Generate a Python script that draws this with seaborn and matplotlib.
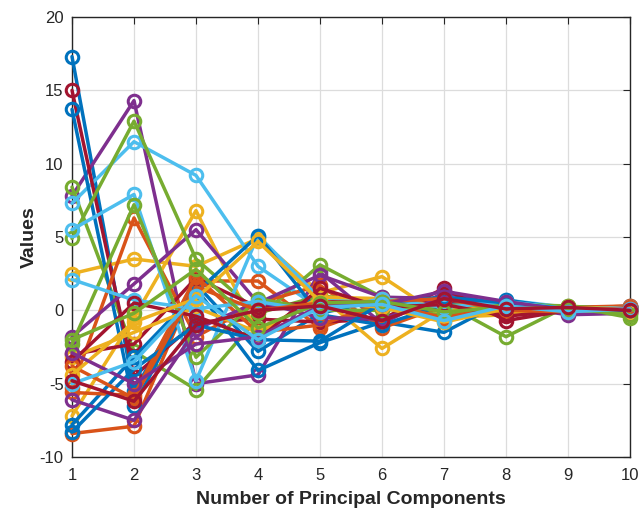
import matplotlib
matplotlib.use("Agg")
import matplotlib.pyplot as plt
import seaborn as sns
import pandas as pd
import numpy as np

components = [1, 2, 3, 4, 5, 6, 7, 8, 9, 10]

s01 = [17.3, -5.5, 1.8, -2.8, -0.2, 0.7, 0.5, 0.6, 0.2, 0.1]
s02 = [-8.4, -7.9, 2.0, 2.0, -1.2, 0.3, 0.0, -0.2, 0.1, 0.3]
s03 = [2.5, 3.5, 3.0, 4.9, 1.2, 2.3, -0.5, -0.3, 0.2, 0.0]
s04 = [7.8, 14.3, -5.0, -4.4, 2.6, -0.9, 1.2, 0.3, -0.3, -0.2]
s05 = [8.4, -2.8, -5.4, -0.5, 3.1, 0.9, 0.5, -1.8, 0.3, -0.5]
s06 = [7.3, 11.5, 9.2, 3.0, 0.1, 0.8, -0.6, 0.7, 0.2, 0.2]
s07 = [15.0, -4.5, -0.8, -0.6, -0.8, -0.6, 1.5, -0.7, 0.0, -0.1]
s08 = [13.7, -6.5, 1.5, -4.1, -2.2, -0.8, -1.5, 0.7, 0.1, 0.0]
s09 = [-5.3, 6.3, -1.8, 0.5, 1.7, -1.2, 0.3, 0.2, 0.0, 0.1]
s10 = [-7.2, -0.5, 6.8, -1.6, 1.0, -2.6, 0.0, 0.2, 0.1, 0.1]
s11 = [-1.8, 1.8, 5.5, 0.5, 2.4, 0.9, 0.8, 0.5, -0.2, -0.1]
s12 = [4.9, 12.9, 3.5, -0.2, 1.0, 0.5, -0.4, 0.5, 0.2, 0.2]
s13 = [5.5, 7.9, -4.8, 5.1, 0.8, 0.7, 0.5, 0.5, 0.0, 0.3]
s14 = [-3.0, -2.3, 2.2, 0.2, 0.6, 0.5, 0.6, 0.3, 0.1, 0.2]
s15 = [-7.8, -3.2, 1.2, 5.1, -0.3, -1.0, 0.4, 0.4, 0.2, 0.2]
s16 = [-5.6, -5.8, 2.3, -1.5, -1.0, 0.5, -0.5, 0.3, 0.2, 0.3]
s17 = [-3.2, -1.5, 0.2, -1.5, 0.9, 0.8, 0.3, 0.5, 0.0, -0.1]
s18 = [-6.1, -7.5, -1.3, 0.6, -0.5, -0.6, 0.9, 0.4, 0.1, 0.0]
s19 = [-2.3, 7.2, -3.2, 0.8, 0.0, 0.0, 0.3, 0.4, 0.3, 0.0]
s20 = [2.1, 0.7, 0.1, 0.6, -0.1, 0.8, 0.2, 0.6, 0.1, 0.2]
s21 = [-3.5, 0.5, -0.4, -2.0, 1.5, 0.2, 0.4, -0.4, 0.0, 0.1]
s22 = [-8.3, -4.0, -1.0, -2.0, -2.1, 0.5, 0.9, 0.5, 0.1, 0.0]
s23 = [-3.8, -6.0, 1.6, 0.0, 0.5, 0.6, 0.8, 0.0, -0.1, 0.2]
s24 = [-4.4, -0.8, 0.8, 4.7, 0.6, 0.2, -0.8, 0.1, 0.2, 0.1]
s25 = [-2.9, -5.0, -2.3, -1.8, 0.3, 0.4, 1.3, 0.6, 0.0, 0.1]
s26 = [-2.0, -0.2, 2.8, -1.2, 0.5, 0.6, -0.1, 0.2, 0.1, -0.3]
s27 = [-5.0, -3.5, 1.0, -2.0, 0.2, 0.4, -0.7, 0.3, -0.1, 0.1]
s28 = [-4.8, -6.2, -1.0, 0.0, 0.3, -0.7, 0.8, 0.1, 0.2, 0.0]

series = [s01, s02, s03, s04, s05, s06, s07, s08, s09, s10, s11, s12, s13, s14,
          s15, s16, s17, s18, s19, s20, s21, s22, s23, s24, s25, s26, s27, s28]

x_ticks = [1, 2, 3, 4, 5, 6, 7, 8, 9, 10]
y_ticks = [-10, -5, 0, 5, 10, 15, 20]

matlab_colors = ["#0072BD", "#D95319", "#EDB120", "#7E2F8E",
                 "#77AC30", "#4DBEEE", "#A2142F"]

sns.set_style("white")
plt.rcParams["font.family"] = ["Liberation Sans", "DejaVu Sans"]
plt.rcParams["axes.unicode_minus"] = False

fig = plt.figure(figsize=(6.44, 5.11), dpi=100)
ax = fig.add_axes([72 / 644, 1 - 457 / 511, (630 - 72) / 644, (457 - 17) / 511])

for i, vals in enumerate(series):
    df = pd.DataFrame({"x": components, "y": vals})
    sns.lineplot(data=df, x="x", y="y", ax=ax, color=matlab_colors[i % 7],
                 marker="o", markerfacecolor="none", markeredgewidth=2.2,
                 markersize=9, linewidth=2.5, markeredgecolor=matlab_colors[i % 7],
                 legend=False, clip_on=False, zorder=3)

ax.set_xlim(1, 10)
ax.set_ylim(-10, 20)
ax.set_xticks(x_ticks)
ax.set_yticks(y_ticks)
ax.grid(True, color="#dcdcdc", linewidth=0.9)
ax.set_axisbelow(True)
for sp in ax.spines.values():
    sp.set_visible(True)
    sp.set_color("#262626")
    sp.set_linewidth(1.0)
ax.tick_params(direction="in", length=5, width=0.8, top=True, right=True,
               labelsize=12, colors="#262626", labelcolor="#262626")
ax.tick_params(axis="x", pad=8)
ax.tick_params(axis="y", pad=6)
ax.set_xlabel("Number of Principal Components", fontsize=14, fontweight="bold",
              color="#262626", labelpad=6)
ax.set_ylabel("Values", fontsize=14, fontweight="bold", color="#262626", labelpad=1)

fig.savefig("out.png", dpi=100)
